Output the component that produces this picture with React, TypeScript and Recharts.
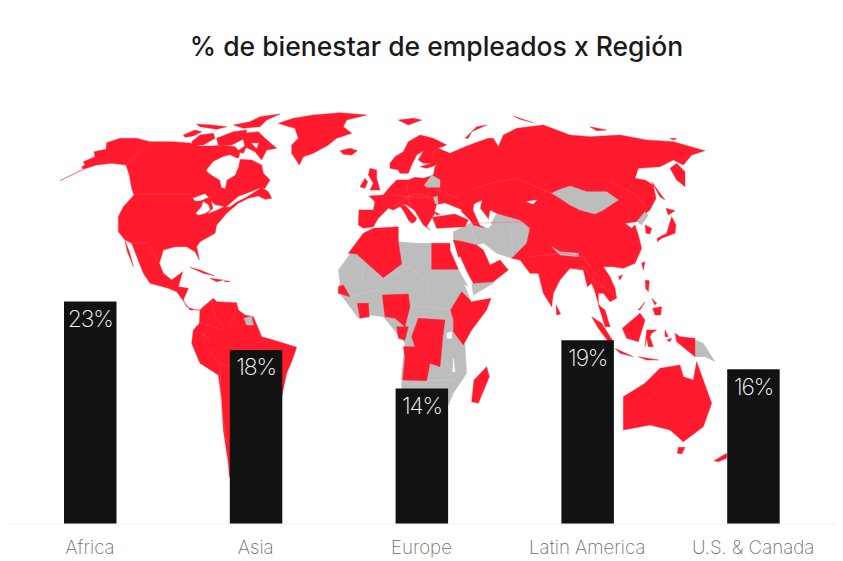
import React from "react";
import { BarChart, Bar, XAxis, YAxis, LabelList } from "recharts";

const categories = ["Africa", "Asia", "Europe", "Latin America", "U.S. & Canada"];
const values = [23, 18, 14, 19, 16];
const valueLabels = ["23%", "18%", "14%", "19%", "16%"];
const chartTitle = "% de bienestar de empleados x Región";
const rows = categories.map((name, i) => ({ name, value: values[i], label: valueLabels[i] }));

// Backdrop map outlines (decoration, not data)
const RED = "#ff1b2d";
const GREY = "#bdbdbd";
const PINK = "#ff5f6d";
const westRed = [
  "60,212 130,178 125,170 135,165 130,155 165,140 162,125 198,118 200,98 240,85 290,85 330,95 400,95 455,100 480,108 515,108 550,105 585,110 600,125 595,148 635,150 665,165 670,190 690,210 675,235 665,232 685,245 695,265 675,268 655,258 625,265 595,280 560,310 530,345 525,370 480,395 470,410 478,450 465,425 440,410 405,410 370,420 358,460 370,490 395,510 428,485 415,530 445,535 430,570 440,590 465,600 480,600 450,600 410,545 385,535 330,520 310,490 275,400 255,390 235,365 235,320 250,290 282,255 275,235 268,195 258,165 215,160 170,165 130,178",
  "255,392 268,425 280,470 262,425",
  "480,600 490,590 520,565 530,575 590,578 595,600 615,615 640,620 665,680 700,690 770,712 755,755 740,790 725,860 700,1100 568,1100 565,1060 550,960 545,870 535,795 480,760 455,700 460,660 478,640",
  "715,40 760,25 820,15 900,8 980,15 920,30 910,50 935,70 890,85 865,105 820,130 790,140 778,165 755,130 755,105 775,85 765,55 740,48",
  "900,122 930,115 952,122 935,135 910,133",
  "430,75 465,60 485,65 460,78 435,82",
  "455,95 480,75 520,70 525,85 490,105 460,105",
  "470,42 515,45 560,50 530,58 480,50",
  "530,85 580,65 620,60 615,85 575,105 535,105",
  "605,70 655,65 675,85 710,115 680,120 665,150 645,125 615,110",
  "580,45 630,35 660,20 720,12 680,30 660,50 610,55",
  "590,125 605,115 625,100 610,130",
  "450,472 480,480 522,497 490,490",
  "510,505 550,510 530,515",
  "552,512 570,514 558,516",
  "990,175 1010,180 1010,205 1020,240 990,240 1000,220 985,195",
  "960,230 975,205 983,215 975,235",
];
const westWhite = [
  "500,180 520,155 550,140 570,135 590,145 600,145 595,170 585,195 560,210 555,235 545,232 540,210 515,195 502,185",
  "460,265 495,252 505,262 480,272 465,272",
  "490,275 505,285 510,300 495,310 475,315 468,310 485,290",
  "515,275 525,285 550,290 530,300 505,310 520,295",
  "560,290 595,260 635,245 660,235 620,260 590,275 570,290",
  "645,270 660,265 655,272",
  "635,100 655,100 650,115",
];
const westGrey = ["612,625 635,618 640,645 620,645"];
const westLines = [
  "285,253 455,253",
  "258,163 335,93",
  "275,398 300,400 320,398 355,450",
  "480,640 520,650 550,660",
  "505,720 540,760 566,770",
  "540,760 545,900 560,1000",
  "465,660 500,680 510,700",
  "515,570 525,620 550,650",
  "590,580 580,630 566,650",
];
const eastGrey = [
  "60,432 100,400 205,395 260,400 305,400 385,478 415,530 425,570 365,600 370,640 405,705 410,790 370,850 355,885 215,885 215,790 225,700 160,620 120,615 85,625 60,590 25,545 30,520 25,480",
  "370,365 420,340 475,355 500,310 570,330 600,355 590,400 545,445 500,430 460,400 440,405 400,395 370,395",
  "425,520 490,505 490,520 430,555",
  "1095,690 1120,700 1155,755 1125,740 1095,740",
];
const eastRed = [
  "325,115 360,130 405,110 445,95 475,85 490,85 505,110 520,75 560,55 640,45 680,60 720,75 780,80 870,75 950,90 1030,95 1125,122 1085,135 1060,165 1030,150 990,170 925,175 915,205 945,210 970,225 978,265 960,300 935,320 920,335 885,340 905,355 915,345 925,375 935,415 915,460 880,475 850,470 820,470 840,500 855,535 860,565 840,575 820,550 805,550 805,580 840,650 825,650 795,545 785,520 772,530 760,480 720,475 690,510 670,550 665,590 640,550 625,490 600,490 570,450 545,445 590,400 600,355 570,330 500,310 480,300 470,355 430,345 420,330 390,300 320,315 315,310 307,322 290,350 300,360 280,345 265,320 253,300 225,282 205,292 190,300 175,295 160,310 130,300 135,275 117,258 160,255 180,230 200,210 235,210 255,202 280,205 310,195 315,170 320,165 305,135",
  "180,160 195,140 220,125 235,95 270,75 310,85 350,105 325,115 305,135 320,165 290,175 270,170 305,160 280,160 265,150 280,122 260,135 245,165 235,190 210,190 205,180 180,175",
  "87,300 130,300 160,310 145,325 130,350 100,355 85,345",
  "307,322 375,312 415,330 405,350 320,355",
  "210,288 225,285 260,325 255,335 245,340 235,330 225,310",
  "205,30 250,25 275,30 235,45",
  "405,85 440,50 470,45 425,65 415,85",
  "550,18 610,38 570,28",
  "780,50 830,60 800,62",
  "1020,85 1040,85 1030,90",
  "55,430 100,370 130,355 205,350 205,395 215,462 160,503 80,432",
  "25,530 40,525 60,560 25,550",
  "82,580 115,580 118,620 90,625",
  "157,555 235,552 240,590 225,650 195,625 165,620",
  "200,650 235,650 225,690 205,685",
  "265,625 345,630 340,665 330,770 300,760 290,812 218,810 225,740 220,710 255,710 245,680",
  "395,545 425,575 483,565 470,600 425,660 400,705 370,665 370,630 362,600",
  "470,770 478,800 445,880 425,875 432,810",
  "370,390 400,395 440,405 460,420 480,465 510,450 535,480 490,515 430,520 385,440",
  "305,400 360,400 360,420 385,478 305,478",
  "880,860 945,820 990,775 1050,765 1060,800 1090,810 1100,755 1145,880 1120,950 1060,995 1020,960 960,945 880,960",
  "1045,1012 1065,1012 1055,1032 1042,1030",
  "1152,1052 1190,1030 1190,1045 1165,1055",
  "678,585 692,612 680,615",
  "982,385 1010,370 1025,320 1038,345 1035,370 995,385 982,395",
  "1008,295 1035,302 1015,315",
  "965,215 1005,270 990,260",
  "1020,175 1040,160 1065,185 1065,230 1040,210",
  "945,345 965,355 960,372 948,370",
  "935,460 945,455 940,480",
  "865,500 878,495 870,510",
  "946,510 958,512 955,545 947,535",
  "968,595 995,590 992,615 975,615",
  "925,600 945,575 930,600",
  "965,565 980,580 975,585",
  "785,620 815,640 850,695 835,695 805,655",
  "805,585 825,600 840,650 825,640",
  "855,715 910,740 870,730",
  "925,740 985,750 950,750",
  "877,655 930,610 945,630 925,695 890,685",
  "950,660 980,660 965,670 960,680 970,710 955,710 950,685 945,710",
  "1005,660 1015,680 1005,680",
  "1035,670 1050,680 1095,685 1095,740 1070,720 1040,695",
  "1010,690 1025,685 1020,695",
];
const eastGreyTop = [
  "665,250 685,240 720,228 770,245 830,245 865,270 820,300 795,312 750,300 720,285 690,265",
  "920,335 945,305 955,315 935,345",
  "283,225 305,195 330,210 330,232 290,232",
  "665,410 690,425 745,430 745,440 690,435",
  "310,262 322,258 325,285 315,280",
];
const eastWhite = [
  "320,285 345,280 395,300 380,310 330,312 315,305",
  "433,282 455,272 450,295 470,320 485,345 470,355 450,345 430,300",
  "590,275 620,270 610,282",
  "350,670 365,665 365,685 352,685",
  "370,745 375,785 368,785",
  "390,440 425,520 420,515 380,450",
  "415,530 430,570 425,575 405,525",
];
const eastLines = [
  "420,240 500,215 560,205 640,240 665,250",
  "180,255 230,260 310,265",
  "190,290 250,250 300,260",
  "230,215 240,290",
  "600,440 700,430 760,440 800,500",
  "840,215 920,255 950,295",
  "720,480 760,470 790,510 860,560",
  "320,240 385,265",
  "420,340 600,335",
];
const africaLines = [
  "25,485 60,445 100,470 95,520",
  "240,470 300,520 290,570",
  "160,505 240,470",
  "60,560 140,540 160,550",
  "240,590 300,590 360,600",
  "340,740 370,790 340,800",
  "290,812 370,810",
  "450,390 500,430",
  "420,340 440,400",
  "540,345 550,440",
];

function polys(list: string[], fill: string) {
  return list.map((p, i) => <polygon key={i} points={p} fill={fill} stroke={fill} strokeWidth={1.2} strokeLinejoin="round" />);
}
function lines(list: string[], stroke: string) {
  return list.map((p, i) => <polyline key={i} points={p} fill="none" stroke={stroke} strokeWidth={1.2} />);
}

function Backdrop() {
  return (
    <svg width={843} height={561} style={{ position: "absolute", left: 0, top: 0 }}>
      <text x={436.5} y={56} textAnchor="middle" fontFamily="Inter, sans-serif" fontWeight={500} fontSize={26.5} fill="#1a1a1a">{chartTitle}</text>
      <g transform="translate(40,110) scale(0.33333)">
        {polys(westRed, RED)}
        {polys(westWhite, "#ffffff")}
        {polys(westGrey, GREY)}
        {lines(westLines, PINK)}
      </g>
      <g transform="translate(330,110) scale(0.33333)">
        {polys(eastGrey, GREY)}
        {lines(africaLines, "#d4d4d4")}
        {polys(eastRed, RED)}
        {polys(eastGreyTop, GREY)}
        {polys(eastWhite, "#ffffff")}
        {lines(eastLines, PINK)}
      </g>
    </svg>
  );
}

export default function App() {
  return (
    <div style={{ position: "absolute", left: 0, top: 0, width: 843, height: 561, background: "#fff" }}>
      <Backdrop />
      <div style={{ position: "absolute", left: 0, top: 0 }}>
        <BarChart width={843} height={561} data={rows} margin={{ top: 40.5, right: 7, bottom: 0, left: 7 }}>
          <XAxis
            dataKey="name"
            interval={0}
            tickLine={false}
            axisLine={{ stroke: "#efefef" }}
            tick={{ fill: "#707070", fontSize: 18.7, fontFamily: "Inter, sans-serif", fontWeight: 200 }}
            tickMargin={11}
            height={37}
          />
          <YAxis hide domain={[0, 50]} />
          <Bar dataKey="value" fill="#121212" barSize={52.5} isAnimationActive={false}>
            <LabelList dataKey="label" position="insideTop" offset={9} fill="#ffffff" fontSize={23} fontFamily="Inter, sans-serif" fontWeight={200} letterSpacing={-1.2} />
          </Bar>
        </BarChart>
      </div>
    </div>
  );
}
